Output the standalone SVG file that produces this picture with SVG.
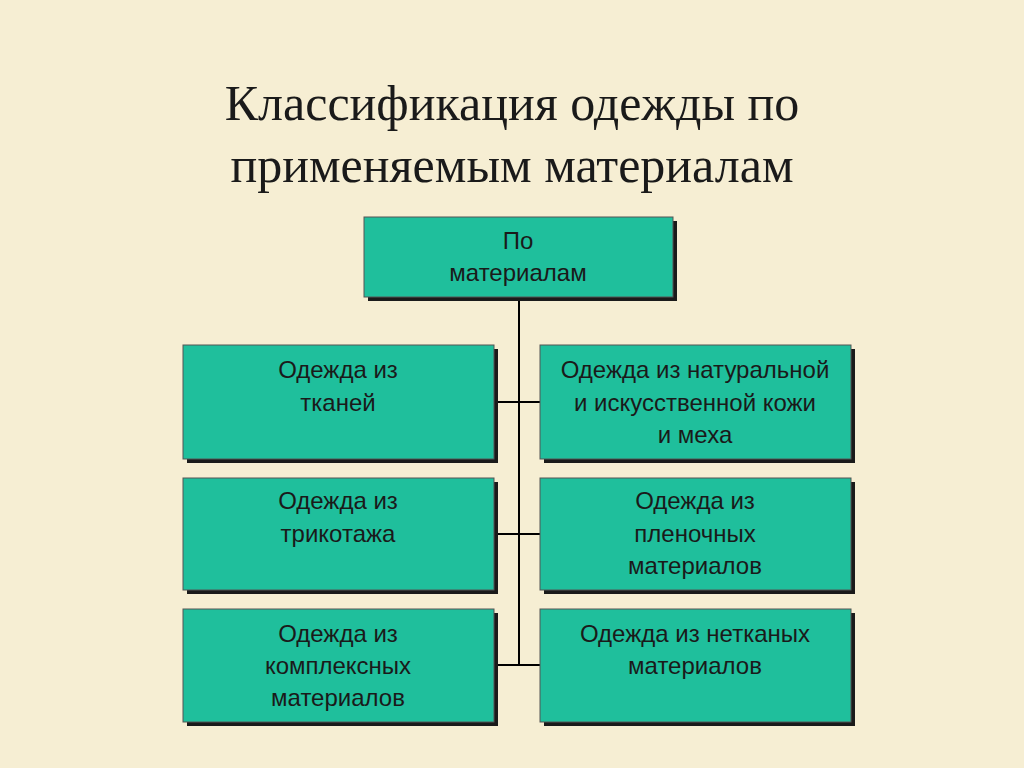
<svg xmlns="http://www.w3.org/2000/svg" width="1024" height="768" viewBox="0 0 1024 768">
<style>
.b{fill:#1fbf9c;stroke:#555;stroke-width:1}
.s{fill:#1a1a1a}
.t{font-family:"Liberation Sans",Arial,sans-serif;font-size:24px;fill:#1a1a1a;text-anchor:middle}
.h{font-family:"Liberation Serif","Times New Roman",serif;font-size:50px;fill:#1a1a1a;text-anchor:middle}
.c{stroke:#000;stroke-width:2;fill:none}
</style>
<rect width="1024" height="768" fill="#f6eed3"/>
<text class="h" x="512" y="120">Классификация одежды по</text>
<text class="h" x="512" y="182">применяемым материалам</text>
<g id="connectors">
<path class="c" d="M519 297V665M494 402H540M494 534H540M494 665H540"/>
</g>
<g id="n0"><rect class="s" x="368" y="221" width="309" height="80"/><rect class="b" x="364" y="217" width="309" height="80"/>
<text class="t" x="518" y="249">По</text><text class="t" x="518" y="281">материалам</text></g>
<g id="n1"><rect class="s" x="187" y="349" width="311" height="114"/><rect class="b" x="183" y="345" width="311" height="114"/>
<text class="t" x="338" y="378">Одежда из</text><text class="t" x="338" y="411">тканей</text></g>
<g id="n2"><rect class="s" x="544" y="349" width="311" height="114"/><rect class="b" x="540" y="345" width="311" height="114"/>
<text class="t" x="695" y="378">Одежда из натуральной</text><text class="t" x="695" y="411">и искусственной кожи</text><text class="t" x="695" y="443">и меха</text></g>
<g id="n3"><rect class="s" x="187" y="482" width="311" height="112"/><rect class="b" x="183" y="478" width="311" height="112"/>
<text class="t" x="338" y="509">Одежда из</text><text class="t" x="338" y="542">трикотажа</text></g>
<g id="n4"><rect class="s" x="544" y="482" width="311" height="112"/><rect class="b" x="540" y="478" width="311" height="112"/>
<text class="t" x="695" y="509">Одежда из</text><text class="t" x="695" y="542">пленочных</text><text class="t" x="695" y="574">материалов</text></g>
<g id="n5"><rect class="s" x="187" y="613" width="311" height="113"/><rect class="b" x="183" y="609" width="311" height="113"/>
<text class="t" x="338" y="642">Одежда из</text><text class="t" x="338" y="674">комплексных</text><text class="t" x="338" y="706">материалов</text></g>
<g id="n6"><rect class="s" x="544" y="613" width="311" height="113"/><rect class="b" x="540" y="609" width="311" height="113"/>
<text class="t" x="695" y="642">Одежда из нетканых</text><text class="t" x="695" y="674">материалов</text></g>
</svg>
